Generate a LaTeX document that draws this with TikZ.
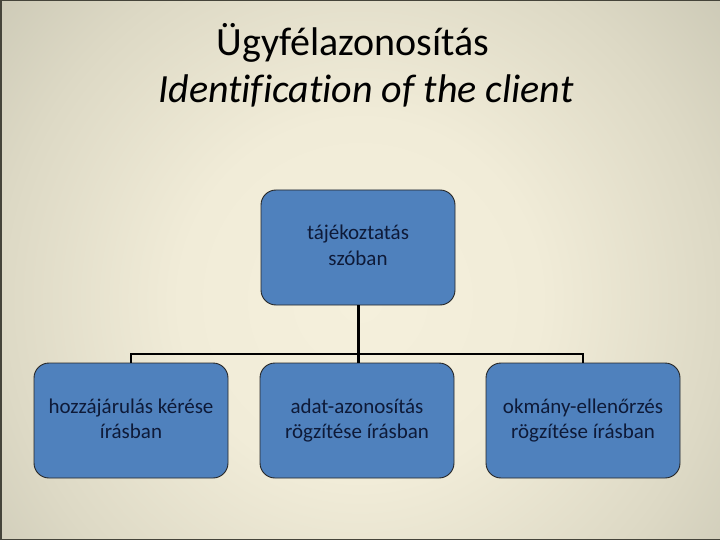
\documentclass[tikz,border=0pt]{standalone}
\usepackage{fontspec}
\setmainfont[Ligatures=NoCommon]{Carlito}
\definecolor{bgc}{HTML}{F5F0DC}
\definecolor{bga}{HTML}{F1ECD8}
\definecolor{bgb}{HTML}{DDD9C5}
\definecolor{bgd}{HTML}{CCC9B6}
\definecolor{bge}{HTML}{C2BFAC}
\definecolor{bgf}{HTML}{A8A696}
\definecolor{bgo}{HTML}{9A9888}
\definecolor{edge}{HTML}{45443A}
\definecolor{boxfill}{HTML}{4F81BD}
\definecolor{boxtext}{HTML}{0E1A38}
\pgfdeclareradialshading{bgshade}{\pgfpoint{0bp}{0bp}}{color(0bp)=(bgc); color(10bp)=(bga); color(20bp)=(bgb); color(26.7bp)=(bgd); color(32bp)=(bge); color(40bp)=(bgf); color(50bp)=(bgo)}
\begin{document}
\begin{tikzpicture}[x=1pt,y=-1pt,
  orgbox/.style={draw=black!85, line width=0.9pt, fill=boxfill, rounded corners=15pt,
    minimum width=194pt, minimum height=115pt, inner sep=0pt, align=center,
    text=boxtext, font=\fontsize{21}{25}\selectfont},
  titletext/.style={anchor=base, inner sep=0pt, text=black},
  conn/.style={line width=3pt, black}]
\useasboundingbox (0,0) rectangle (720,540);
\begin{scope}
  \clip (0,0) rectangle (720,540);
  \shade[shading=bgshade] (-90,-150) rectangle (810,750);
\end{scope}
\fill[edge] (0,0) rectangle (2,540);
\fill[edge] (0,0) rectangle (720,1);
\fill[edge] (0,539) rectangle (720,540);
\node[titletext, font=\fontsize{40}{44}\selectfont] (t1) at (353,56) {Ügyfélazonosítás};
\node[titletext, font=\fontsize{40}{44}\selectfont\itshape] (t2) at (366,103) {Identification of the client};
\node[orgbox] (top) at (358,247.5) {\strut tájékoztatás\\\strut szóban};
\node[orgbox] (l) at (131,420.5) {\strut hozzájárulás kérése\\\strut írásban};
\node[orgbox] (m) at (357,420.5) {\strut adat-azonosítás\\\strut rögzítése írásban};
\node[orgbox] (r) at (583,420.5) {\strut okmány-ellenőrzés\\\strut rögzítése írásban};
\coordinate (bl) at (131,354);
\coordinate (br) at (583,354);
\draw[conn] (top.south) -- (top.south |- m.north);
\draw[conn, line width=2.5pt] (l.north) -- (bl) -- (br) -- (r.north);
\end{tikzpicture}
\end{document}
